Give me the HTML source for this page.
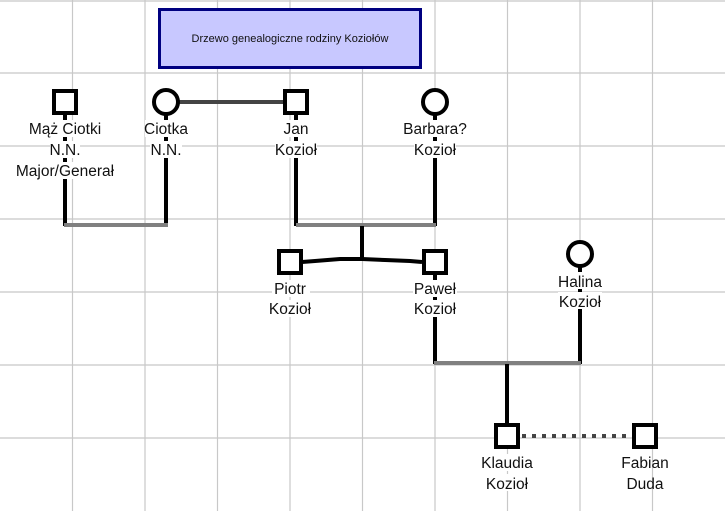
<!DOCTYPE html>
<html><head><meta charset="utf-8"><style>
body{margin:0;background:#fff}
svg text{font-family:"Liberation Sans",Arial,sans-serif;font-size:15.5px;fill:#111;text-anchor:middle}
</style></head><body>
<svg width="725" height="511" xmlns="http://www.w3.org/2000/svg">
<rect width="725" height="511" fill="#fff"/>
<g stroke="#c8c8c8" stroke-width="1.2">
<line x1="72.5" y1="0" x2="72.5" y2="511"/><line x1="145" y1="0" x2="145" y2="511"/><line x1="217.5" y1="0" x2="217.5" y2="511"/><line x1="290" y1="0" x2="290" y2="511"/><line x1="362.5" y1="0" x2="362.5" y2="511"/><line x1="435" y1="0" x2="435" y2="511"/><line x1="507.5" y1="0" x2="507.5" y2="511"/><line x1="580" y1="0" x2="580" y2="511"/><line x1="652.5" y1="0" x2="652.5" y2="511"/>
<line x1="0" y1="1" x2="725" y2="1"/><line x1="0" y1="73" x2="725" y2="73"/><line x1="0" y1="146" x2="725" y2="146"/><line x1="0" y1="219" x2="725" y2="219"/><line x1="0" y1="292" x2="725" y2="292"/><line x1="0" y1="365" x2="725" y2="365"/><line x1="0" y1="438" x2="725" y2="438"/>
</g>
<rect x="159.5" y="9.5" width="261" height="58" fill="#c8c8ff" stroke="#000080" stroke-width="3"/>
<text x="290" y="42" style="font-size:11px">Drzewo genealogiczne rodziny Koziołów</text>
<g stroke-width="4" fill="none">
<line x1="179" y1="102" x2="284" y2="102" stroke="#444"/>
<line x1="65" y1="114" x2="65" y2="226" stroke="#000"/>
<line x1="166" y1="114" x2="166" y2="226" stroke="#000"/>
<line x1="296" y1="114" x2="296" y2="226" stroke="#000"/>
<line x1="435" y1="114" x2="435" y2="226" stroke="#000"/>
<line x1="64" y1="225" x2="168" y2="225" stroke="#808080"/>
<line x1="296" y1="225" x2="436" y2="225" stroke="#808080"/>
<line x1="362" y1="226" x2="362" y2="260" stroke="#000"/>
<polyline points="302,262 315,261 340,259 362,259 385,260 410,261 422,262" stroke="#000"/>
<line x1="435" y1="274" x2="435" y2="364" stroke="#000"/>
<line x1="580" y1="266" x2="580" y2="364" stroke="#000"/>
<line x1="434" y1="363" x2="581" y2="363" stroke="#808080"/>
<line x1="507" y1="364" x2="507" y2="425" stroke="#000"/>
<line x1="522" y1="436" x2="632" y2="436" stroke="#444" stroke-dasharray="4,6"/>
</g>
<g stroke="#000" stroke-width="4" fill="#fff">
<rect x="54" y="91" width="22" height="22"/>
<circle cx="166" cy="102" r="12"/>
<rect x="285" y="91" width="22" height="22"/>
<circle cx="435" cy="102" r="12"/>
<rect x="279" y="251" width="22" height="22"/>
<rect x="424" y="251" width="22" height="22"/>
<circle cx="580" cy="254" r="12"/>
<rect x="496" y="425" width="22" height="22"/>
<rect x="634" y="425" width="22" height="22"/>
</g>
<g fill="#fff">
<rect x="30" y="120" width="70" height="17"/><rect x="50" y="141" width="30" height="17"/><rect x="16" y="162" width="100" height="17"/>
<rect x="145" y="120" width="44" height="17"/><rect x="150" y="141" width="32" height="17"/>
<rect x="282" y="120" width="28" height="17"/><rect x="275" y="141" width="42" height="17"/>
<rect x="400" y="120" width="70" height="17"/><rect x="414" y="141" width="42" height="17"/>
<rect x="272" y="280" width="38" height="17"/><rect x="268" y="300" width="44" height="17"/>
<rect x="413" y="280" width="44" height="17"/><rect x="413" y="300" width="44" height="17"/>
<rect x="558" y="272" width="44" height="17"/><rect x="558" y="292" width="44" height="17"/>
<rect x="480" y="454" width="54" height="17"/><rect x="485" y="474" width="44" height="17"/>
</g>
<text x="65" y="134">Mąż Ciotki</text><text x="65" y="155">N.N.</text><text x="65" y="176">Major/Generał</text>
<text x="166" y="134">Ciotka</text><text x="166" y="155">N.N.</text>
<text x="296" y="134">Jan</text><text x="296" y="155">Kozioł</text>
<text x="435" y="134">Barbara?</text><text x="435" y="155">Kozioł</text>
<text x="290" y="294">Piotr</text><text x="290" y="314">Kozioł</text>
<text x="435" y="294">Paweł</text><text x="435" y="314">Kozioł</text>
<text x="580" y="287">Halina</text><text x="580" y="307">Kozioł</text>
<text x="507" y="468">Klaudia</text><text x="507" y="489">Kozioł</text>
<text x="645" y="468">Fabian</text><text x="645" y="489">Duda</text>
</svg>
</body></html>
